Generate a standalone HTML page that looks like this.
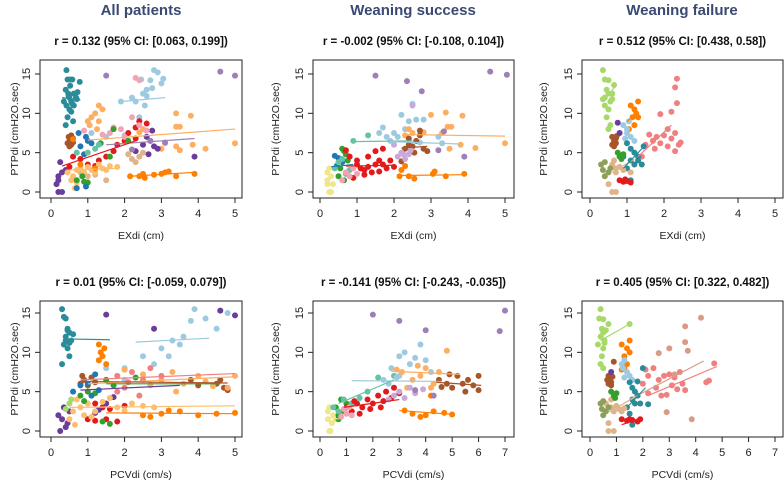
<!DOCTYPE html>
<html><head><meta charset="utf-8"><style>
html,body{margin:0;padding:0;background:#fff;}
svg{display:block;font-family:"Liberation Sans",sans-serif;}
</style></head><body>
<svg id="fig" width="784" height="483" viewBox="0 0 784 483" xmlns="http://www.w3.org/2000/svg">
<text x="141" y="15" text-anchor="middle" font-size="15" font-weight="600" fill="#3a4a72">All patients</text>
<text x="413" y="15" text-anchor="middle" font-size="15" font-weight="600" fill="#3a4a72">Weaning success</text>
<text x="682" y="15" text-anchor="middle" font-size="15" font-weight="600" fill="#3a4a72">Weaning failure</text>
</svg>
<script>
const groupColors = {teal:'#2b8c99',brown:'#a65628',lightblue:'#9ecae1',darkorange:'#ff7f00',lightorange:'#fdae61',purple:'#6a3d9a',red:'#e31a1c',pink:'#f4a3b4',violet:'#9e7fb6',lavender:'#c9a9d9',tan:'#e0b48a',peach:'#fdbf6f',green:'#33a02c',blue:'#1f78b4',seagreen:'#66c2a5',yellow:'#f0e68c',salmon:'#f08080',rosy:'#d99a88',olive:'#8da05a',lightgreen:'#a6d96a'};

const a1_teal=[0.42,15.5,0.45,14.3,0.52,14.3,0.58,14.3,0.4,13,0.47,12.5,0.5,12,0.55,11.5,0.62,12.5,0.42,11,0.5,10.5,0.45,9.5,0.62,11,0.68,12,0.72,12.7,0.52,13.5,0.4,8.5,0.6,9,0.35,11.5,0.55,10.2,0.78,14,0.7,11.8,0.48,12.2,0.58,11.2];
const a1_brown=[0.48,7,0.5,6.5,0.55,6,0.5,5.8,0.55,7.2,0.6,6.8,0.45,6.2,0.6,6.3];
const a1_lightblue=[1.9,11.5,2.2,12,2.5,12.5,2.6,13,2.8,15.5,2.9,15.2,2.7,14.2,3,13.8,2.55,11,2.3,11.5,3.05,14.4,2.6,12.2,2.45,14.3,2.75,13.2,1.1,7.5,1.5,7,2,7.2,2.4,9.5];
const a1_darkorange=[2.15,2,2.4,2,2.55,1.8,2.8,2.2,3,2.3,3.1,2.5,3.4,2,3.9,2.3,3.2,2.6,2.5,2.3,0.8,3.5,1.2,3,0.6,6.7];
const a1_lightorange=[1,9,1.2,10,1.3,11,1.1,9.5,1.3,9,1.4,10.5,1.05,8.5,1.25,8,3.4,10,3.8,9.7,3.4,8.3,3.5,8.3,4.2,5.5,5,6.2,3.5,5.3,3.4,5.8,3,5.5,2.5,8,2.4,7.6,3.85,6];
const a1_purple=[0.2,2,0.3,2.5,0.2,1.5,0.2,0,0.3,0,0.4,2.8,0.25,3.8,0.15,1,2.5,6,2.7,6.5,2.8,5.8,2.6,7,2.9,5.5,2.75,7.8,3.9,4.5,2.65,4.8,2.3,5.2];
const a1_red=[0.6,4.5,0.8,4.2,1,3.5,1.3,4,1.5,4.5,1.7,5.2,2,6.5,2.1,7.5,2.4,9,1.8,6,2.3,8.2,2.6,8.7,0.5,3.2,1.2,3.3,2.3,6.8];
const a1_pink=[1.7,8.2,1.9,8,2,7,2.2,9.5,1.6,7.5,0.9,7.8,1.4,7.3,2.4,8.5,3.1,6.2,2.6,7.8,2.3,14.5,2.4,14.2];
const a1_violet=[1.5,14.8,4.6,15.3,5,14.8,2.7,6.5,3.1,6.3,2.2,5.4];
const a1_tan=[2.2,4.2,2.4,4.5,2.5,5,2.3,3.8,2.1,4.8,0.8,2.5,1.2,2.2,1,2,1.5,1.5];
const a1_peach=[0.6,2,0.7,2.8,0.8,3,0.9,2.5,1,3.2,1.1,2.8,1.2,2.5,1.3,3.5,1.4,3,0.55,1.5,0.7,1.2,1.5,2.8,1.6,3.3,1.8,3.2,0.65,0.5,0.45,2.5];
const a1_green=[0.9,1.3,1,1.2,0.7,1.5,0.85,2,1.7,8,2.1,6.5,1.6,4.5,1.35,6.2];
const a1_blue=[0.7,0.5,0.95,0.7,0.8,5.8,1,6.5,1.1,6.2,0.75,7.5,0.9,4.8,0.95,7];
const a1_seagreen=[1,5,1.3,6,0.7,5,1.2,5.5];
const a1_lines=[['lightorange',1,6.6,5,8],['teal',0.3,12,0.8,11.7],['lightblue',1.9,11.5,3.1,12],['darkorange',2.15,2,3.9,2.5],['violet',1.5,6,3.9,6.8],['red',0.3,3.3,2.3,6.5],['peach',0.5,2.8,1.8,3]];

const b1_yellow=[0.2,1.5,0.25,0,0.3,0,0.2,2.5,0.3,2,0.25,3,0.35,1,0.2,1];
const b1_blue=[0.4,4.6,0.5,4.3,0.45,3.3,0.6,3.8];
const b1_green=[0.6,5.5,0.65,5.2,0.7,4.8,0.5,2,0.55,3,0.65,1.5,0.75,4];
const b1_seagreen=[0.4,3,0.5,3.8,0.6,4.2,0.8,4.5,0.9,6.5,1.3,7.2,0.7,2.3,0.8,2.8];
const b1_red=[0.7,5.3,0.8,4.5,1,3.5,1.1,3,1.2,2.8,1.3,3.2,1.4,2.5,1.5,3.5,1.6,4,1.7,3.5,1.8,3,1.9,4,2,3.2,1.5,5.2,1.7,5.5,1.2,2.2,1,4,1.3,4.5,0.9,1.8,1.6,2.6];
const b1_pink=[0.6,1.5,0.8,2,1,2.3,0.7,2.5,0.9,3];
const b1_lightblue=[1.6,7.5,1.7,8.2,1.8,7,2,7.5,2.2,9.8,2.4,9,2.6,9.2,2.8,9.2,2.5,11.2,2.3,8,3.2,7,3.3,6.2,1.9,6.5,2.1,7,2.7,6.3];
const b1_darkorange=[2.15,2,2.4,2,2.55,1.7,3.05,2.3,3.1,2.6,3.4,2,3.9,2.3,2.2,2.8,2.3,3.3,2.45,5.5];
const b1_lightorange=[2.4,8,2.5,7.5,2.8,7.6,3,9.8,3.4,10.1,3.85,9.7,3.45,8.3,3.55,8.3,4.2,5.6,5,6.2,3.5,5.5,3.8,6,2.3,7.2,3.3,7.5];
const b1_brown=[2.3,5.5,2.4,6,2.5,5.8,2.6,6.5,2.7,7.2,2.8,5.5,2.9,5.2,2.7,7.8,2.55,5,2.4,6.8,2.2,3.9];
const b1_lavender=[2.1,4.5,2.2,5,2.3,4.2,2.4,4.8,2.45,5.3,2.25,4.8,2.5,11,2,6];
const b1_violet=[1.5,14.8,2.35,14.1,2.75,12.8,4.6,15.3,5.05,14.9,3.9,4.5,3.2,5.3,3.35,7.7];
const b1_lines=[['lightorange',2.3,7.3,5,7.1],['seagreen',0.9,6.4,2.5,6.5],['lightblue',1.9,6.4,3.8,6.1],['darkorange',2.15,2.1,3.9,2.2],['red',0.7,3.3,2,3.4],['blue',0.3,3.2,0.9,3.5],['brown',2.2,5.6,2.9,5.8]];

const c1_lightgreen=[0.35,15.5,0.4,14.3,0.5,14.2,0.45,13,0.5,12.5,0.4,12,0.55,11.5,0.4,11,0.5,10.5,0.45,9.5,0.55,8.5,0.5,8,0.6,12.5,0.65,13.6,0.6,11.8,0.35,11.8];
const c1_darkorange=[1.1,11,1.2,10.5,1.25,10,1.3,11.5,1.15,9.5,1.2,8.5,1.3,9.5,1.05,8];
const c1_salmon=[1.5,6,1.7,6.5,1.8,7,1.9,6.2,2,7.2,2.1,8,2.2,6.8,2.3,7.5,2.4,6,1.6,7.3,1.75,5.5,2.1,5.8,2.3,5.2,1.4,4.5,2.2,10.2,2.35,14.4,2.3,13.3,2.35,11.3,1.9,9.9,2.45,6.3];
const c1_brown=[0.6,7,0.65,6.5,0.7,6.8,0.6,6,0.65,5.8,0.7,6.2,0.72,7.1];
const c1_lightblue=[0.9,8.5,1,8,1.05,9,1,7.5,1.1,7,1.2,6.5,0.95,6.8];
const c1_teal=[1,6.2,1.1,5.5,1.2,5,1.3,4.5,1.1,4,1.2,3.5,1.3,4,1.4,3.5,1,3,1.1,1.5,0.9,4.5,1.45,5.8];
const c1_red=[0.8,1.5,0.9,1.3,1,1.4,1.1,1.2,0.95,1.6];
const c1_tan=[0.6,3.5,0.7,3,0.8,3.2,0.9,2.8,0.7,2.5,0.65,4,0.5,1,0.6,0,0.7,0,1.1,2.5];
const c1_olive=[0.3,3.5,0.4,3.8,0.35,2.8,0.5,2.5,0.4,2,0.55,3];
const c1_green=[0.8,4.5,0.9,4.8,0.85,4.2,0.75,5];
const c1_purple=[0.75,8.8,0.8,7.5];
const c1_lines=[['lightgreen',0.35,11.5,0.7,13.5],['salmon',1.3,4.5,2.2,8.5],['tan',0.6,2.5,1.2,4.2],['teal',0.9,3,1.4,5.5],['darkorange',1,9,1.3,10]];

const a2_teal=[0.3,15.5,0.35,14.5,0.4,14.3,0.45,13,0.5,12.5,0.4,12,0.55,11.5,0.35,11,0.45,10.5,0.5,9.5,0.3,8.5,0.6,12.3,0.4,11.5,0.5,11.2,0.45,12.8];
const a2_brown=[0.8,6,0.9,6.5,1,5.8,1.1,6.8,0.85,7,1.2,6.2,4.5,6,4.7,5.5,4.6,6.5,4.8,5.2,4,5.8,3.8,6.5];
const a2_lightblue=[2,8,2.5,9.5,3,10.5,3.3,11.5,3.6,12,3.8,14,3.9,15.5,4.2,14.3,4.5,13,3.5,11,4.8,15,3.2,9.5,2.8,8.5,2,6.5,1.5,8];
const a2_darkorange=[1.3,11,1.35,10,1.4,9.5,1.45,10.5,1.3,9,1.5,8.5,2.5,2,3,2.2,3.5,2.5,4,2,4.5,2.2,5,2.3,3.2,2.6,2.7,1.8];
const a2_lightorange=[2.7,5.8,3,6.5,3.3,7.5,3.6,6,4,7,4.4,5.7,4.8,5.5,5,7,2.5,7.2,2,7.8,3.4,5,4.2,6.3];
const a2_salmon=[1.5,6.5,1.8,7,2,5.5,2.2,7.5,2.5,6.5,2.7,8,3,7,2.4,4.5,2.1,6.2,1.8,5];
const a2_red=[1,1.5,1.2,1.3,1.5,1.5,1.8,1.2,1.4,3,1.2,3.5,1.6,2.8,2,3.2];
const a2_purple=[0.2,2,0.3,1.5,0.25,0,0.4,0.5,0.5,2.5,0.35,3,1.2,2.3,1.3,2.7,1.5,3.5,1.7,4.3,2.8,13,4.6,15.3,5,14.7,1.5,14.8,0.45,1];
const a2_peach=[0.6,2.5,0.8,3,1,3.5,1.2,2.5,1.4,3.7,0.7,4,1.6,4.2,1.8,3,2,2.6,2.2,3.5,2.5,3.2,2.8,3,0.9,2,1.1,1.8,0.5,1.5,0.65,0.8];
const a2_green=[0.8,4.5,1,5,1.2,4.8,1.5,6.5,1.7,5.8,2.3,6.8,1.4,1.2,1.6,0.9,0.9,3.8];
const a2_blue=[0.6,5,0.8,5.8,1,6,1.3,5.2,1.1,4.5,1.2,7.2];
const a2_lightgreen=[0.5,3.5,0.55,4,0.4,2.8];
const a2_lines=[['teal',0.4,11.7,1.6,11.6],['lightblue',2.3,11.3,4.3,11.8],['darkorange',1.5,2.3,5,2.2],['lightorange',1,6,5,6.9],['green',1.5,6,4.6,6],['salmon',0.8,6.5,5,7.3],['purple',0.8,5.2,3.5,5.8],['peach',0.5,3,5,3.2],['brown',0.8,6.3,4.8,6.1]];

const b2_yellow=[0.3,1.5,0.35,0,0.4,0,0.3,2.5,0.5,2,0.35,3,0.45,1,0.6,1.5];
const b2_green=[0.6,3,0.7,2,0.8,4,0.9,2.5,1,3.5,0.7,1.5];
const b2_seagreen=[0.5,3,0.9,4,1.2,3.5,1.5,4.2,1.8,5,2.2,6.8,2.8,7,0.7,2.5];
const b2_red=[1,3,1.2,2.5,1.4,3.5,1.6,3,1.8,4,2,3.5,2.2,4.5,2.4,3.8,2.5,5,2.7,4.2,1.5,2.2,1.9,2.8,2.3,3,2.8,5.5,3,4.8,1.3,3.8];
const b2_pink=[0.8,1.8,1,2.2,1.2,2,1.1,3,0.9,2.8];
const b2_lightblue=[2.4,6.5,2.7,8,3,9.5,3.2,10,3.4,8.5,3.6,9.3,3.8,11,4,9,3,7,2.6,6,4.2,7.5,2.9,6.8];
const b2_darkorange=[3.5,2.2,4,2,4.3,2.5,4.7,2.3,5,2.1,3.2,2.6,3.8,1.8,4.2,4.5];
const b2_lightorange=[3.1,7.5,3.5,6.5,3.8,7,4,8,4.3,6,4.5,7.5,4.2,5.5,3.3,5.5,2.9,7.8,3.7,8.3,4.8,10.2];
const b2_brown=[4.5,6.5,4.8,6,5,5.5,5.2,7,5.4,6,5.6,6.5,5.8,5.8,6,5.2,5.5,5,4.9,7.2,6,7,4.6,5.6];
const b2_lavender=[2.8,4.5,3,5,3.2,4.2,3.4,5.5,3.6,4.8,2.6,4,3.9,5.3];
const b2_violet=[2,14.8,3,14,4,12.8,6.8,12.7,7,15.3,4.3,4.5,3.6,5.2];
const b2_lines=[['lightblue',1.2,6.4,4.6,6.3],['lightorange',2.7,7.6,5.3,7.2],['brown',4.4,6.2,6.1,5.8],['darkorange',3,2.6,5.1,2.1],['red',0.9,3,3,4],['seagreen',0.7,3.5,2.8,6.5],['yellow',0.3,1.8,0.7,1.5]];

const c2_lightgreen=[0.4,15.5,0.35,14.3,0.5,14.2,0.45,13,0.5,12.5,0.4,12,0.55,11.5,0.3,11,0.5,10.5,0.45,9.5,0.4,8.5,0.5,8,0.6,12.8,0.7,13.6,1.5,13.6,0.55,11.2];
const c2_darkorange=[1.2,11,1.4,10.5,1.5,10,1.5,11.5,1.3,9.5,1.4,8.5,1.3,8,1.2,7.8];
const c2_salmon=[2,6,2.2,7,2.4,8,2.6,6.5,2.8,7,3,7.2,3.2,6.8,3.4,7.5,3.5,6,2.1,7.8,2.5,5.5,3.1,5.8,3.6,5.2,2.7,4.5,2.9,4.6,4.4,6.2,4.5,6.4,4.7,8.6,2.2,4.8,3.3,5.3];
const c2_rosy=[2.6,9.9,3,10.5,3.6,11.3,3.7,10.2,3.6,13.3,4.2,14.4,2.9,2.4,3.85,1.5,3.2,7.2];
const c2_brown=[0.7,7,0.65,6.5,0.75,6.8,0.7,6,0.8,5.8,0.8,6.2,0.85,6.9,0.9,8.8];
const c2_lightblue=[1.2,8.5,1.3,9,1.25,8,1.4,7.5,1.5,7,1.6,6.5,1.3,6.8];
const c2_teal=[1.5,6.2,1.6,5.5,1.7,5,1.8,4.5,1.6,4,1.7,3.5,2,8,2.2,3.4,1.9,3.5,1.4,3,1.6,0.8,1.5,2.2,1.8,6.3];
const c2_red=[1.2,1.5,1.4,1.3,1.6,1.4,1.8,1.2,1.9,1.5,1.5,1.5];
const c2_tan=[0.6,3.5,0.8,3,1,3.2,1.1,2.8,0.9,2.5,0.8,4,0.7,1,0.7,0,0.9,0,1.2,2.5,1.3,2.9];
const c2_olive=[0.4,3.5,0.5,3.8,0.45,2.8,0.6,2.5,0.5,2,0.7,3];
const c2_green=[0.9,4.5,1,4.8,0.95,4.2,0.8,5];
const c2_purple=[0.8,7.5];
const c2_lines=[['lightgreen',0.4,11.5,1.5,13.6],['salmon',2.2,4.5,4.8,8.2],['rosy',1.5,4,4.3,8.9],['tan',0.7,2.4,1.7,4.3],['teal',1.4,3,2.1,5.5],['red',1.2,0.8,1.9,1.6]];

const rLabels=['r = 0.132 (95% CI: [0.063, 0.199])','r = -0.002 (95% CI: [-0.108, 0.104])','r = 0.512 (95% CI: [0.438, 0.58])','r = 0.01 (95% CI: [-0.059, 0.079])','r = -0.141 (95% CI: [-0.243, -0.035])','r = 0.405 (95% CI: [0.322, 0.482])'];
const xTicksTop=[0,1,2,3,4,5];
const xTicks5=[0,1,2,3,4,5];
const xTicks7=[0,1,2,3,4,5,6,7];
const yTicks=[0,5,10,15];

const svg=document.getElementById('fig');
const NS='http://www.w3.org/2000/svg';
function mk(tag,attrs,parent){const e=document.createElementNS(NS,tag);for(const k in attrs)e.setAttribute(k,attrs[k]);(parent||svg).appendChild(e);return e;}

const cols=[{bx1:40,bx2:242,x0:51,xEnd:235,ylab:14},{bx1:313,bx2:514,x0:320,xEnd:505,ylab:275},{bx1:582,bx2:783,x0:590,xEnd:775,ylab:543}];
const rows=[{by1:60,by2:198,y0:192,y15:74,xlabel:'EXdi (cm)'},{by1:301,by2:437,y0:431,y15:313,xlabel:'PCVdi (cm/s)'}];

const panels=[
 {name:'all-exdi',c:0,r:0,ticks:xTicks5,groups:{teal:a1_teal,brown:a1_brown,lightblue:a1_lightblue,lightorange:a1_lightorange,purple:a1_purple,red:a1_red,pink:a1_pink,tan:a1_tan,peach:a1_peach,green:a1_green,blue:a1_blue,seagreen:a1_seagreen,darkorange:a1_darkorange,violet:a1_violet},lines:a1_lines},
 {name:'success-exdi',c:1,r:0,ticks:xTicks5,groups:{yellow:b1_yellow,blue:b1_blue,green:b1_green,seagreen:b1_seagreen,red:b1_red,pink:b1_pink,lightblue:b1_lightblue,darkorange:b1_darkorange,lightorange:b1_lightorange,brown:b1_brown,lavender:b1_lavender,violet:b1_violet},lines:b1_lines},
 {name:'failure-exdi',c:2,r:0,ticks:xTicksTop,groups:{lightgreen:c1_lightgreen,darkorange:c1_darkorange,salmon:c1_salmon,brown:c1_brown,lightblue:c1_lightblue,teal:c1_teal,red:c1_red,tan:c1_tan,olive:c1_olive,green:c1_green,purple:c1_purple},lines:c1_lines},
 {name:'all-pcvdi',c:0,r:1,ticks:xTicks5,groups:{teal:a2_teal,brown:a2_brown,lightblue:a2_lightblue,lightorange:a2_lightorange,salmon:a2_salmon,red:a2_red,purple:a2_purple,peach:a2_peach,green:a2_green,blue:a2_blue,lightgreen:a2_lightgreen,darkorange:a2_darkorange},lines:a2_lines},
 {name:'success-pcvdi',c:1,r:1,ticks:xTicks7,groups:{yellow:b2_yellow,green:b2_green,seagreen:b2_seagreen,red:b2_red,pink:b2_pink,lightblue:b2_lightblue,darkorange:b2_darkorange,lightorange:b2_lightorange,brown:b2_brown,lavender:b2_lavender,violet:b2_violet},lines:b2_lines},
 {name:'failure-pcvdi',c:2,r:1,ticks:xTicks7,groups:{lightgreen:c2_lightgreen,darkorange:c2_darkorange,salmon:c2_salmon,rosy:c2_rosy,brown:c2_brown,lightblue:c2_lightblue,teal:c2_teal,red:c2_red,tan:c2_tan,olive:c2_olive,green:c2_green,purple:c2_purple},lines:c2_lines}
];

panels.forEach((p,i)=>{
  const C=cols[p.c],R=rows[p.r];
  const xmax=p.ticks[p.ticks.length-1];
  const X=v=>C.x0+(C.xEnd-C.x0)*v/xmax;
  const Y=v=>R.y0+(R.y15-R.y0)*v/15;
  const g=mk('g',{});
  
  
  const cx=(C.bx1+C.bx2)/2;
  const rt=mk('text',{x:cx,y:R.by1-15,'text-anchor':'middle','font-size':11.5,'font-weight':'bold',fill:'#111'},g);
  rt.textContent=rLabels[i];
  
  
  for(const k in p.groups){
    const arr=p.groups[k];
    for(let j=0;j<arr.length;j+=2){
      const c=mk('circle',{cx:X(arr[j]),cy:Y(arr[j+1]),r:3,fill:groupColors[k]},g);
      
      
    }
  }
  p.lines.forEach(l=>{
    const ln=mk('line',{x1:X(l[1]),y1:Y(l[2]),x2:X(l[3]),y2:Y(l[4]),stroke:groupColors[l[0]],'stroke-width':1.2},g);
    
    
  });
  const box=mk('rect',{x:C.bx1,y:R.by1,width:C.bx2-C.bx1,height:R.by2-R.by1,fill:'none',stroke:'#222','stroke-width':1},g);
  
  
  p.ticks.forEach(t=>{
    const tk=mk('line',{x1:X(t),x2:X(t),y1:R.by2,y2:R.by2+5,stroke:'#222'},g);
    
    
    const tl=mk('text',{x:X(t),y:R.by2+19,'text-anchor':'middle','font-size':11,fill:'#222'},g);
    tl.textContent=t;
    
    
  });
  yTicks.forEach(t=>{
    const tk=mk('line',{x1:C.bx1-5,x2:C.bx1,y1:Y(t),y2:Y(t),stroke:'#222'},g);
    
    
    const tl=mk('text',{x:C.bx1-10,y:Y(t),'text-anchor':'middle','font-size':11,fill:'#222',transform:`rotate(-90 ${C.bx1-10} ${Y(t)})`},g);
    tl.textContent=t;
    
    
  });
  const xl=mk('text',{x:cx,y:R.by2+41,'text-anchor':'middle','font-size':10.5,fill:'#222'},g);
  xl.textContent=R.xlabel;
  
  
  const ym=(R.by1+R.by2)/2;
  const yl=mk('text',{x:C.ylab+4,y:ym,'text-anchor':'middle','font-size':10.5,fill:'#222',transform:`rotate(-90 ${C.ylab+4} ${ym})`},g);
  yl.textContent='PTPdi (cmH2O.sec)';
  
  
});
</script>
</body></html>
